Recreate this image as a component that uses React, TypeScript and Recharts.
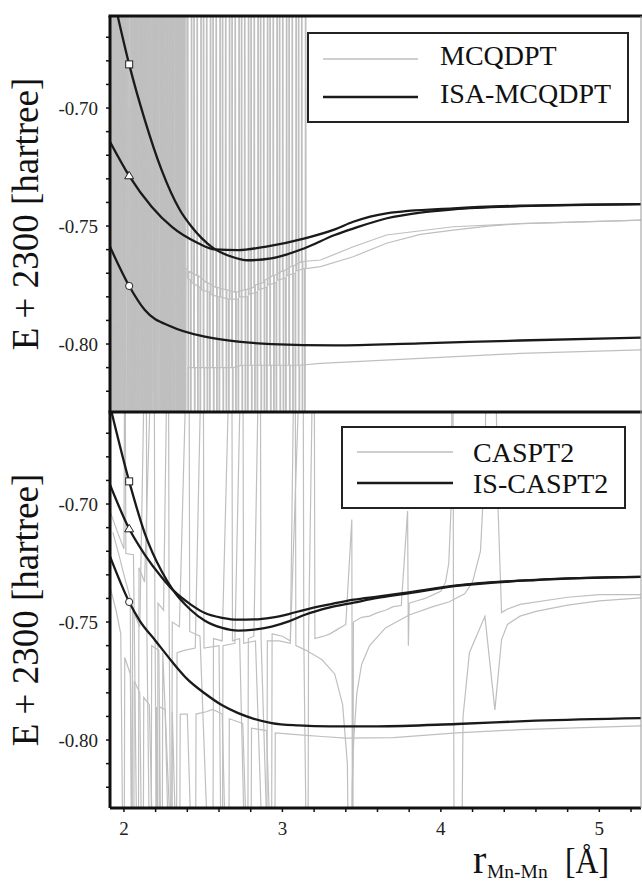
import React from 'react'
import { ComposedChart, Line, Scatter, XAxis, YAxis } from 'recharts'

const FONT = '"Liberation Serif", "Times New Roman", serif'

const xDomain: [number, number] = [1.912, 5.263]
const yDomain: [number, number] = [-0.8288, -0.661]
const xTicks = [2, 2.2, 2.4, 2.6, 2.8, 3, 3.2, 3.4, 3.6, 3.8, 4, 4.2, 4.4, 4.6, 4.8, 5, 5.2]
const yTicks = [-0.82, -0.81, -0.8, -0.79, -0.78, -0.77, -0.76, -0.75, -0.74, -0.73, -0.72, -0.71, -0.7, -0.69, -0.68, -0.67]
const xLabels = [2, 3, 4, 5]
const yLabels = [-0.7, -0.75, -0.8]

// top panel: ISA-MCQDPT (black)
const isaSquare: [number, number][] = [
  [1.912, -0.6465], [1.964, -0.662], [2.033, -0.6815], [2.132, -0.7051], [2.238, -0.7263], [2.353, -0.7432],
  [2.427, -0.7503], [2.553, -0.7588], [2.68, -0.763], [2.78, -0.7645], [2.93, -0.7637], [3.14, -0.7594],
  [3.33, -0.7538], [3.45, -0.751], [3.66, -0.7467], [3.87, -0.7443], [4.08, -0.7429], [4.5, -0.7416], [5.263, -0.7407],
]
const isaTriangle: [number, number][] = [
  [1.912, -0.7143], [2.033, -0.7287], [2.175, -0.7418], [2.301, -0.7503], [2.469, -0.7573], [2.574, -0.7599],
  [2.721, -0.7602], [2.89, -0.7588], [3.142, -0.7552], [3.331, -0.7514], [3.447, -0.7482], [3.657, -0.7446],
  [4.078, -0.7425], [4.498, -0.7414], [5.263, -0.7407],
]
const isaCircle: [number, number][] = [
  [1.912, -0.7588], [2.033, -0.7754], [2.132, -0.7856], [2.301, -0.7927], [2.511, -0.7969], [2.721, -0.799],
  [2.932, -0.8], [3.331, -0.8006], [3.87, -0.7997], [4.5, -0.7985], [5.263, -0.7973],
]

// top panel: MCQDPT (grey), off-scale values are the divergent spikes
const mcqHigh: [number, number][] = [
  [1.915, -0.3], [1.925, -1.2], [1.935, -0.3], [1.945, -1.2], [1.955, -0.3], [1.965, -1.2], [1.975, -0.3],
  [1.985, -1.2], [1.995, -0.3], [2.005, -1.2], [2.015, -0.3], [2.025, -1.2], [2.035, -0.7], [2.045, -1.2],
  [2.055, -0.3], [2.065, -1.2], [2.075, -0.3], [2.085, -1.2], [2.095, -0.3], [2.105, -1.2], [2.115, -0.3],
  [2.125, -1.2], [2.135, -0.3], [2.145, -1.2], [2.155, -0.3], [2.165, -1.2], [2.175, -0.3], [2.185, -0.82],
  [2.195, -0.3], [2.205, -1.2], [2.215, -0.3], [2.225, -1.2], [2.235, -0.3], [2.245, -1.2], [2.255, -0.3],
  [2.265, -1.2], [2.275, -0.3], [2.285, -1.2], [2.295, -0.3], [2.305, -1.2], [2.315, -0.72], [2.325, -1.2],
  [2.335, -0.3], [2.345, -1.2], [2.355, -0.3], [2.365, -1.2], [2.375, -0.3], [2.385, -1.2], [2.392, -0.768],
  [2.4, -0.768], [2.403, -0.3], [2.406, -1.2], [2.409, -0.769],
  [2.46, -0.771], [2.463, -0.3], [2.466, -1.2], [2.469, -0.771],
  [2.52, -0.774], [2.523, -0.3], [2.526, -1.2], [2.529, -0.774],
  [2.58, -0.776], [2.583, -0.3], [2.586, -1.2], [2.589, -0.776],
  [2.64, -0.777], [2.643, -0.3], [2.646, -1.2], [2.649, -0.777],
  [2.7, -0.778], [2.703, -0.3], [2.706, -1.2], [2.709, -0.778],
  [2.76, -0.777], [2.763, -0.3], [2.766, -1.2], [2.769, -0.777],
  [2.82, -0.776], [2.823, -0.3], [2.826, -1.2], [2.829, -0.775],
  [2.88, -0.774], [2.883, -0.3], [2.886, -1.2], [2.889, -0.773],
  [2.94, -0.771], [2.943, -0.3], [2.946, -1.2], [2.949, -0.771],
  [3.0, -0.769], [3.003, -0.3], [3.006, -1.2], [3.009, -0.769],
  [3.06, -0.767], [3.063, -0.3], [3.066, -1.2], [3.069, -0.767],
  [3.12, -0.765], [3.123, -0.3], [3.126, -1.2], [3.129, -0.765],
  [3.24, -0.7644], [3.447, -0.7588], [3.657, -0.7538], [4.078, -0.7503], [4.5, -0.749], [5.0, -0.748], [5.263, -0.7475],
]
const mcqMid: [number, number][] = [
  [1.918, -1.2], [1.928, -0.3], [1.938, -1.2], [1.948, -0.3], [1.958, -1.2], [1.968, -0.3], [1.978, -1.2],
  [1.988, -0.3], [1.998, -1.2], [2.008, -0.3], [2.018, -1.2], [2.028, -0.3], [2.038, -1.2], [2.048, -0.3],
  [2.058, -1.2], [2.068, -0.3], [2.078, -1.2], [2.088, -0.68], [2.098, -1.2], [2.108, -0.3], [2.118, -1.2],
  [2.128, -0.3], [2.138, -1.2], [2.148, -0.3], [2.158, -1.2], [2.168, -0.3], [2.178, -1.2], [2.188, -0.3],
  [2.198, -1.2], [2.208, -0.3], [2.218, -0.8], [2.228, -0.3], [2.238, -1.2], [2.248, -0.3], [2.258, -1.2],
  [2.268, -0.3], [2.278, -1.2], [2.288, -0.3], [2.298, -1.2], [2.308, -0.3], [2.318, -1.2], [2.328, -0.3],
  [2.338, -1.2], [2.348, -0.3], [2.358, -1.2], [2.368, -0.3], [2.378, -1.2], [2.388, -0.3], [2.4, -0.772],
  [2.42, -0.773], [2.423, -1.2], [2.426, -0.3], [2.429, -0.774],
  [2.48, -0.776], [2.483, -1.2], [2.486, -0.3], [2.489, -0.777],
  [2.54, -0.778], [2.543, -1.2], [2.546, -0.3], [2.549, -0.779],
  [2.6, -0.78], [2.603, -1.2], [2.606, -0.3], [2.609, -0.78],
  [2.66, -0.781], [2.663, -1.2], [2.666, -0.3], [2.669, -0.781],
  [2.72, -0.781], [2.723, -1.2], [2.726, -0.3], [2.729, -0.78],
  [2.78, -0.78], [2.783, -1.2], [2.786, -0.3], [2.789, -0.779],
  [2.84, -0.778], [2.843, -1.2], [2.846, -0.3], [2.849, -0.777],
  [2.9, -0.776], [2.903, -1.2], [2.906, -0.3], [2.909, -0.775],
  [2.96, -0.774], [2.963, -1.2], [2.966, -0.3], [2.969, -0.773],
  [3.02, -0.772], [3.023, -1.2], [3.026, -0.3], [3.029, -0.771],
  [3.08, -0.77], [3.083, -1.2], [3.086, -0.3], [3.089, -0.769],
  [3.14, -0.768], [3.143, -1.2], [3.146, -0.3], [3.149, -0.768],
  [3.24, -0.7672], [3.447, -0.763], [3.657, -0.7573], [3.87, -0.7535], [4.078, -0.7517], [4.3, -0.75],
  [4.5, -0.749], [5.0, -0.748], [5.263, -0.7475],
]
const mcqLow: [number, number][] = [
  [1.922, -0.3], [1.932, -1.2], [1.942, -0.3], [1.952, -1.2], [1.962, -0.3], [1.972, -1.2], [1.982, -0.3],
  [1.992, -1.2], [2.002, -0.3], [2.012, -0.78], [2.022, -0.3], [2.032, -1.2], [2.042, -0.3], [2.052, -1.2],
  [2.062, -0.3], [2.072, -1.2], [2.082, -0.3], [2.092, -1.2], [2.102, -0.3], [2.112, -1.2], [2.122, -0.3],
  [2.132, -1.2], [2.142, -0.3], [2.152, -1.2], [2.162, -0.3], [2.172, -1.2], [2.182, -0.3], [2.192, -1.2],
  [2.202, -0.3], [2.212, -1.2], [2.222, -0.3], [2.232, -1.2], [2.242, -0.3], [2.252, -1.2], [2.262, -0.3],
  [2.272, -0.86], [2.282, -0.3], [2.292, -1.2], [2.302, -0.3], [2.312, -1.2], [2.322, -0.3], [2.332, -1.2],
  [2.342, -0.3], [2.352, -1.2], [2.362, -0.3], [2.372, -1.2], [2.382, -0.3], [2.392, -1.2], [2.405, -0.81],
  [2.44, -0.81], [2.443, -0.3], [2.446, -1.2], [2.449, -0.81],
  [2.5, -0.81], [2.503, -0.3], [2.506, -1.2], [2.509, -0.81],
  [2.56, -0.81], [2.563, -0.3], [2.566, -1.2], [2.569, -0.81],
  [2.62, -0.81], [2.623, -0.3], [2.626, -1.2], [2.629, -0.81],
  [2.68, -0.81], [2.683, -0.3], [2.686, -1.2], [2.689, -0.81],
  [2.74, -0.809], [2.743, -0.3], [2.746, -1.2], [2.749, -0.809],
  [2.8, -0.809], [2.803, -0.3], [2.806, -1.2], [2.809, -0.809],
  [2.86, -0.809], [2.863, -0.3], [2.866, -1.2], [2.869, -0.809],
  [2.92, -0.809], [2.923, -0.3], [2.926, -1.2], [2.929, -0.809],
  [2.98, -0.809], [2.983, -0.3], [2.986, -1.2], [2.989, -0.809],
  [3.04, -0.809], [3.043, -0.3], [3.046, -1.2], [3.049, -0.809],
  [3.1, -0.809], [3.103, -0.3], [3.106, -1.2], [3.109, -0.809],
  [3.24, -0.8082], [3.87, -0.8061], [4.5, -0.804], [5.263, -0.8025],
]

// bottom panel: IS-CASPT2 (black)
const isSquare: [number, number][] = [
  [1.912, -0.6583], [2.033, -0.6904], [2.132, -0.7125], [2.238, -0.7285], [2.31, -0.7365], [2.42, -0.7448],
  [2.511, -0.7495], [2.62, -0.7525], [2.721, -0.7536], [2.82, -0.7532], [2.932, -0.7519], [3.04, -0.7497],
  [3.142, -0.7469], [3.3, -0.7438], [3.45, -0.7418], [3.6, -0.7398], [3.76, -0.7382], [4.1, -0.7347],
  [4.6, -0.7322], [5.263, -0.7309],
]
const isTriangle: [number, number][] = [
  [1.912, -0.6918], [2.033, -0.7105], [2.132, -0.7215], [2.238, -0.731], [2.31, -0.7365], [2.42, -0.7425],
  [2.511, -0.7462], [2.62, -0.7482], [2.721, -0.749], [2.82, -0.7489], [2.932, -0.7481], [3.04, -0.7466],
  [3.142, -0.7448], [3.3, -0.7425], [3.45, -0.7405], [3.6, -0.7392], [3.76, -0.7378], [4.1, -0.7345],
  [4.6, -0.7321], [5.263, -0.7309],
]
const isCircle: [number, number][] = [
  [1.912, -0.7222], [2.033, -0.7415], [2.1, -0.7495], [2.2, -0.758], [2.3, -0.7665], [2.4, -0.7742],
  [2.511, -0.7803], [2.62, -0.7853], [2.721, -0.7886], [2.82, -0.791], [2.932, -0.7928], [3.1, -0.7938],
  [3.3, -0.7942], [3.6, -0.7942], [4.1, -0.7932], [4.6, -0.7918], [5.263, -0.7907],
]

// bottom panel: CASPT2 (grey)
const casHigh: [number, number][] = [
  [1.912, -0.703], [1.96, -0.712], [2.0, -0.719], [2.006, -0.6], [2.012, -0.721], [2.06, -0.7215], [2.09, -0.9],
  [2.095, -0.727], [2.13, -0.733], [2.19, -0.6], [2.195, -0.74], [2.21, -0.9], [2.215, -0.742], [2.25, -0.745],
  [2.28, -0.6], [2.285, -0.748], [2.3, -0.9], [2.305, -0.75], [2.35, -0.752], [2.41, -0.6], [2.415, -0.754],
  [2.48, -0.756], [2.56, -0.9], [2.565, -0.757], [2.62, -0.758], [2.68, -0.6], [2.685, -0.758], [2.73, -0.757],
  [2.78, -0.9], [2.785, -0.757], [2.82, -0.756], [2.86, -0.6], [2.865, -0.756], [2.93, -0.9], [2.935, -0.755],
  [3.0, -0.756], [3.05, -0.758], [3.13, -0.6], [3.135, -0.757], [3.16, -0.9], [3.165, -0.757], [3.2, -0.6],
  [3.205, -0.757], [3.26, -0.756], [3.3, -0.755], [3.35, -0.753], [3.4, -0.751], [3.438, -0.7066], [3.443, -0.9],
  [3.448, -0.75], [3.5, -0.748], [3.55, -0.7475], [3.6, -0.746], [3.65, -0.745], [3.7, -0.7435], [3.75, -0.743],
  [3.79, -0.703], [3.795, -0.76], [3.8, -0.742], [3.85, -0.741], [3.9, -0.74], [3.95, -0.7385], [4.0, -0.737],
  [4.03, -0.733], [4.05, -0.725], [4.065, -0.7], [4.075, -0.6], [4.085, -0.9], [4.125, -0.9], [4.14, -0.79],
  [4.18, -0.763], [4.278, -0.7476], [4.341, -0.7872], [4.383, -0.7575], [4.42, -0.751], [4.5, -0.7475],
  [4.6, -0.7455], [4.8, -0.7428], [5.0, -0.741], [5.263, -0.7398],
]
const casMid: [number, number][] = [
  [1.93, -0.712], [1.97, -0.722], [2.0, -0.73], [2.04, -0.74], [2.05, -0.9], [2.055, -0.745], [2.1, -0.752],
  [2.14, -0.6], [2.145, -0.756], [2.17, -0.9], [2.175, -0.76], [2.22, -0.762], [2.24, -0.9], [2.245, -0.763],
  [2.33, -0.9], [2.335, -0.763], [2.38, -0.762], [2.45, -0.761], [2.5, -0.6], [2.505, -0.761], [2.6, -0.76],
  [2.62, -0.9], [2.625, -0.76], [2.7, -0.759], [2.75, -0.6], [2.755, -0.759], [2.83, -0.758], [2.9, -0.9],
  [2.905, -0.758], [2.98, -0.758], [3.05, -0.759], [3.08, -0.6], [3.085, -0.76], [3.15, -0.762], [3.25, -0.766],
  [3.33, -0.772], [3.38, -0.785], [3.41, -0.81], [3.425, -0.9], [3.435, -0.9], [3.44, -0.82], [3.45, -0.8],
  [3.47, -0.78], [3.5, -0.768], [3.55, -0.76], [3.65, -0.7525], [3.8, -0.747], [3.95, -0.7435], [4.05, -0.7415],
  [4.15, -0.738], [4.2, -0.733], [4.25, -0.72], [4.28, -0.68], [4.29, -0.6], [4.335, -0.6], [4.36, -0.7],
  [4.383, -0.746], [4.42, -0.7445], [4.5, -0.7425], [4.8, -0.7395], [5.0, -0.7384], [5.263, -0.7384],
]
const casLow: [number, number][] = [
  [1.912, -0.735], [1.95, -0.745], [1.98, -0.755], [2.0, -0.9], [2.005, -0.765], [2.04, -0.772], [2.06, -0.9],
  [2.065, -0.775], [2.1, -0.78], [2.12, -0.9], [2.125, -0.782], [2.16, -0.785], [2.2, -0.9], [2.205, -0.786],
  [2.22, -0.9], [2.225, -0.786], [2.26, -0.787], [2.3, -0.9], [2.305, -0.788], [2.35, -0.9], [2.355, -0.789],
  [2.4, -0.789], [2.45, -0.9], [2.455, -0.789], [2.52, -0.788], [2.56, -0.787], [2.62, -0.789], [2.66, -0.9],
  [2.665, -0.791], [2.75, -0.793], [2.8, -0.9], [2.805, -0.795], [2.9, -0.796], [2.95, -0.9], [2.955, -0.797],
  [3.05, -0.7975], [3.15, -0.798], [3.25, -0.7985], [3.4, -0.7992], [3.7, -0.799], [4.1, -0.797], [4.5, -0.7956],
  [5.0, -0.7945], [5.263, -0.794],
]

const topMarks = [
  { x: 2.033, y: -0.6815, kind: 'square' },
  { x: 2.033, y: -0.7287, kind: 'triangle' },
  { x: 2.033, y: -0.7754, kind: 'circle' },
]
const bottomMarks = [
  { x: 2.033, y: -0.6904, kind: 'square' },
  { x: 2.033, y: -0.7105, kind: 'triangle' },
  { x: 2.033, y: -0.7415, kind: 'circle' },
]

const toPts = (a: [number, number][]) => a.map(([x, y]) => ({ x, y }))

const YTick = (props: any) => {
  const { x, y, payload } = props
  const v = payload.value
  if (!yLabels.some(l => Math.abs(l - v) < 1e-6)) return <g />
  return (
    <text x={x} y={y} dy="0.36em" textAnchor="end" fontSize={19} fontFamily={FONT} fill="#222">
      {v.toFixed(2)}
    </text>
  )
}

const XTick = (props: any) => {
  const { x, y, payload } = props
  const v = payload.value
  if (!xLabels.some(l => Math.abs(l - v) < 1e-6)) return <g />
  return (
    <text x={x} y={y} dy="0.71em" textAnchor="middle" fontSize={19} fontFamily={FONT} fill="#222">
      {v}
    </text>
  )
}

const Marker = (props: any) => {
  const { cx, cy } = props
  const kind = props.payload?.kind ?? props.kind
  if (kind === 'square') return <rect x={cx - 3.5} y={cy - 3.5} width={7} height={7} fill="#fff" stroke="#222" strokeWidth={1} />
  if (kind === 'triangle') return <polygon points={`${cx},${cy - 4.5} ${cx + 4.5},${cy + 3} ${cx - 4.5},${cy + 3}`} fill="#fff" stroke="#222" strokeWidth={1} />
  return <circle cx={cx} cy={cy} r={3.6} fill="#fff" stroke="#222" strokeWidth={1} />
}

interface PanelProps {
  grey: [number, number][][]
  black: [number, number][][]
  marks: { x: number; y: number; kind: string }[]
  height: number
  top: number
  marginTop: number
  showX: boolean
}

function Panel({ grey, black, marks, height, top, marginTop, showX }: PanelProps) {
  return (
    <div style={{ position: 'absolute', left: 0, top }}>
      <ComposedChart width={642} height={height} margin={{ top: marginTop, right: 1, bottom: 0, left: 0 }}>
        <XAxis
          type="number"
          dataKey="x"
          domain={xDomain}
          allowDataOverflow
          ticks={xTicks}
          interval={0}
          hide={!showX}
          height={75}
          tickSize={4}
          tickMargin={10}
          axisLine={{ stroke: '#111', strokeWidth: 3 }}
          tickLine={{ stroke: '#111', strokeWidth: 1.5 }}
          tick={<XTick />}
        />
        <YAxis
          type="number"
          dataKey="y"
          domain={yDomain}
          allowDataOverflow
          ticks={yTicks}
          interval={0}
          width={110}
          tickSize={4}
          tickMargin={8}
          axisLine={{ stroke: '#111', strokeWidth: 3 }}
          tickLine={{ stroke: '#111', strokeWidth: 1.5 }}
          tick={<YTick />}
        />
        {grey.map((s, i) => (
          <Line key={`g${i}`} data={toPts(s)} dataKey="y" type="linear" stroke="#bfbfbf" strokeWidth={1.2} dot={false} isAnimationActive={false} />
        ))}
        {black.map((s, i) => (
          <Line key={`b${i}`} data={toPts(s)} dataKey="y" type="monotone" stroke="#1a1a1a" strokeWidth={2.3} dot={false} isAnimationActive={false} />
        ))}
        <Scatter data={marks} dataKey="y" shape={Marker} isAnimationActive={false} />
      </ComposedChart>
    </div>
  )
}

export default function App() {
  return (
    <div style={{ position: 'absolute', left: 0, top: 0, width: 642, height: 883, background: '#fff', overflow: 'hidden' }}>
      <Panel grey={[mcqHigh, mcqMid, mcqLow]} black={[isaSquare, isaTriangle, isaCircle]} marks={topMarks} height={412} top={0} marginTop={16} showX={false} />
      <Panel grey={[casHigh, casMid, casLow]} black={[isSquare, isTriangle, isCircle]} marks={bottomMarks} height={471} top={412} marginTop={0} showX />
      <svg width={642} height={883} style={{ position: 'absolute', left: 0, top: 0, pointerEvents: 'none' }}>
        <line x1={108.5} y1={16} x2={642} y2={16} stroke="#111" strokeWidth={3} />
        <line x1={108.5} y1={412} x2={642} y2={412} stroke="#111" strokeWidth={3} />
        <line x1={641} y1={16} x2={641} y2={808} stroke="#999" strokeWidth={1} />

        <text transform="translate(38,214) rotate(-90)" textAnchor="middle" fontSize={37} fontFamily={FONT} fill="#111">E + 2300 [hartree]</text>
        <text transform="translate(38,610) rotate(-90)" textAnchor="middle" fontSize={37} fontFamily={FONT} fill="#111">E + 2300 [hartree]</text>

        <text x={473} y={873} fontSize={40} fontFamily={FONT} fill="#111">r</text>
        <text x={487} y={878} fontSize={19.5} fontFamily={FONT} fill="#111">Mn-Mn</text>
        <text x={565} y={873} fontSize={36} fontFamily={FONT} fill="#111" textLength={44} lengthAdjust="spacingAndGlyphs">[Å]</text>

        <rect x={308} y={33} width={320} height={89} fill="#fff" stroke="#222" strokeWidth={2} />
        <line x1={323} y1={59} x2={418} y2={59} stroke="#bfbfbf" strokeWidth={1.3} />
        <line x1={323} y1={97} x2={418} y2={97} stroke="#1a1a1a" strokeWidth={2.3} />
        <text x={440} y={65} fontSize={28} fontFamily={FONT} fill="#111">MCQDPT</text>
        <text x={440} y={103} fontSize={28} fontFamily={FONT} fill="#111">ISA-MCQDPT</text>

        <rect x={342} y={427} width={283} height={81} fill="#fff" stroke="#222" strokeWidth={2} />
        <line x1={357} y1={452} x2={453} y2={452} stroke="#bfbfbf" strokeWidth={1.3} />
        <line x1={357} y1={483} x2={453} y2={483} stroke="#1a1a1a" strokeWidth={2.3} />
        <text x={473} y={462} fontSize={28} fontFamily={FONT} fill="#111">CASPT2</text>
        <text x={473} y={493} fontSize={28} fontFamily={FONT} fill="#111">IS-CASPT2</text>
      </svg>
    </div>
  )
}
